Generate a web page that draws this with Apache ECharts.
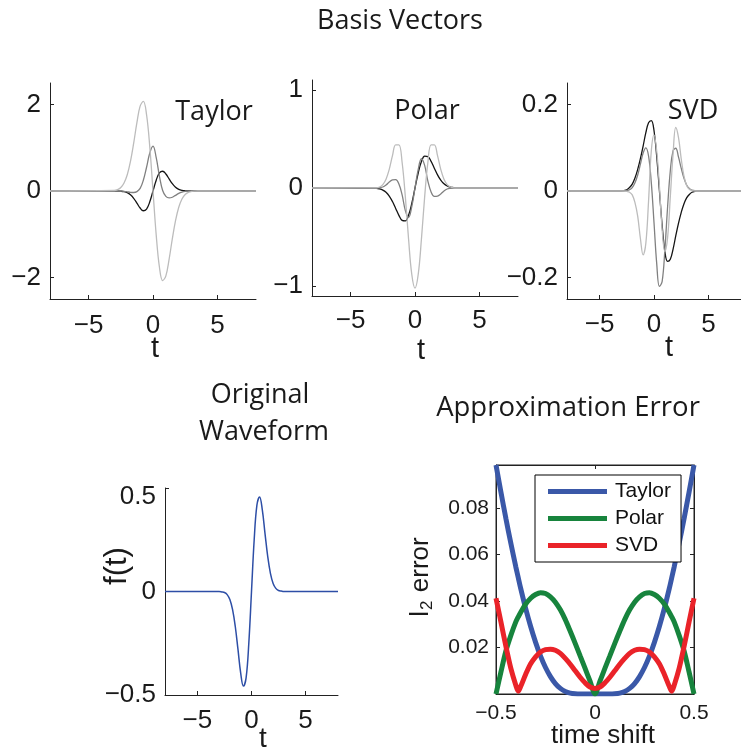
<!DOCTYPE html>
<html><head><meta charset="utf-8">
<script src="https://cdn.jsdelivr.net/npm/echarts@6/dist/echarts.min.js"></script>
<style>html,body{margin:0;padding:0;background:#fff}#c{width:741px;height:755px}</style>
</head><body><div id="c"></div>
<script>
// ---- data ----
const T = [-8,-3,-2.75,-2.5,-2.25,-2,-1.75,-1.5,-1.25,-1,-0.75,-0.5,-0.25,0,0.25,0.5,0.75,1,1.25,1.5,1.75,2,2.25,2.5,2.75,3,3.25,3.5,3.75,4,8];

const waveform = [0,0,-0.002,-0.005,-0.015,-0.039,-0.088,-0.169,-0.28,-0.394,-0.457,-0.417,-0.251,0,0.251,0.417,0.457,0.394,0.28,0.169,0.088,0.039,0.015,0.005,0.002,0,0,0,0,0,0];

const taylor1 = [0,0,-0.002,-0.005,-0.015,-0.039,-0.088,-0.169,-0.28,-0.394,-0.457,-0.417,-0.251,0,0.251,0.417,0.457,0.394,0.28,0.169,0.088,0.039,0.015,0.005,0.002,0,0,0,0,0,0];
const taylor2 = [0,0,0,-0.003,-0.008,-0.018,-0.03,-0.035,-0.015,0.06,0.25,0.55,0.88,1.04,0.77,0.34,0.01,-0.125,-0.16,-0.145,-0.1,-0.055,-0.025,-0.008,-0.002,0,0,0,0,0,0];
const taylor3 = [0,0.011,0.032,0.081,0.185,0.377,0.686,1.109,1.582,1.964,2.073,1.765,1.021,0,-1.021,-1.765,-2.073,-1.964,-1.582,-1.109,-0.686,-0.377,-0.185,-0.081,-0.032,-0.011,-0.003,0,0,0,0];

const polar1 = [0,-0.004,-0.01,-0.022,-0.044,-0.082,-0.138,-0.208,-0.279,-0.33,-0.335,-0.277,-0.158,0,0.153,0.269,0.325,0.32,0.271,0.202,0.134,0.08,0.043,0.021,0.009,0.004,0.001,0,0,0,0];
const polar2 = [0,0,0.003,0.01,0.03,0.06,0.083,0.085,0.04,-0.07,-0.23,-0.3,-0.19,0,0.19,0.3,0.23,0.07,-0.04,-0.085,-0.083,-0.06,-0.03,-0.01,-0.003,0,0,0,0,0,0];
const polar3 = [0,0.002,0.01,0.035,0.09,0.19,0.33,0.44,0.44,0.26,-0.09,-0.52,-0.88,-1.02,-0.88,-0.52,-0.09,0.26,0.44,0.44,0.33,0.19,0.09,0.035,0.01,0.002,0,0,0,0,0];

const svd1 = [0,0,0.001,0.003,0.008,0.016,0.03,0.05,0.075,0.104,0.135,0.158,0.163,0.14,0.08,0,-0.08,-0.14,-0.163,-0.158,-0.135,-0.104,-0.075,-0.05,-0.03,-0.016,-0.008,-0.003,-0.001,0,0];
const svd2 = [0,0,0,0.001,0.003,0.008,0.019,0.037,0.062,0.088,0.1,0.081,0.02,-0.073,-0.168,-0.221,-0.209,-0.136,-0.037,0.047,0.093,0.099,0.079,0.053,0.03,0.014,0.006,0.002,0.001,0,0];
const svd3 = [0,0,0,-0.001,-0.003,-0.009,-0.027,-0.058,-0.11,-0.148,-0.121,-0.023,0.092,0.13,0.092,0.01,-0.089,-0.14,-0.108,-0.013,0.084,0.147,0.124,0.075,0.035,0.013,0.004,0.001,0,0,0];

const S = [-0.5,-0.475,-0.45,-0.425,-0.4,-0.3875,-0.375,-0.35,-0.325,-0.3,-0.275,-0.25,-0.225,-0.2,-0.175,-0.15,-0.125,-0.1,-0.075,-0.05,-0.025,0,0.025,0.05,0.075,0.1,0.125,0.15,0.175,0.2,0.225,0.25,0.275,0.3,0.325,0.35,0.375,0.3875,0.4,0.425,0.45,0.475,0.5];
const errTaylor = [0.0985,0.0868,0.0755,0.0648,0.0547,0.05,0.0453,0.0367,0.029,0.0222,0.0163,0.0114,0.0075,0.0045,0.0024,0.0011,0.0004,0.0001,0,0,0,0,0,0,0,0.0001,0.0004,0.0011,0.0024,0.0045,0.0075,0.0114,0.0163,0.0222,0.029,0.0367,0.0453,0.05,0.0547,0.0648,0.0755,0.0868,0.0985];
const errPolar = [0,0.0095,0.0185,0.0252,0.031,0.0332,0.0352,0.0387,0.0412,0.0428,0.0436,0.0432,0.0418,0.0395,0.0362,0.032,0.027,0.0218,0.0164,0.011,0.0055,0,0.0055,0.011,0.0164,0.0218,0.027,0.032,0.0362,0.0395,0.0418,0.0432,0.0436,0.0428,0.0412,0.0387,0.0352,0.0332,0.031,0.0252,0.0185,0.0095,0];
const errSVD = [0.0412,0.031,0.0205,0.011,0.0038,0.0012,0.0033,0.0085,0.013,0.016,0.0181,0.0191,0.0193,0.0188,0.0175,0.0153,0.0128,0.01,0.0072,0.0048,0.003,0.0024,0.003,0.0048,0.0072,0.01,0.0128,0.0153,0.0175,0.0188,0.0193,0.0191,0.0181,0.016,0.013,0.0085,0.0033,0.0012,0.0038,0.011,0.0205,0.031,0.0412];

const tTicks = [-5,0,5];
const taylorTicks = [-2,0,2];
const polarTicks = [-1,0,1];
const svdTicks = [-0.2,0,0.2];
const waveTicks = [-0.5,0,0.5];
const shiftTicks = [-0.5,0,0.5];
const errTicks = [0.02,0.04,0.06,0.08];
const legendNames = ['Taylor','Polar','SVD'];

// ---- styling / building ----
const AX = '#222';
const HF = 'Liberation Sans, Arial, sans-serif';
const TF = 'Open Sans, Lato, sans-serif';
const BIG = {fontFamily:HF, fontSize:26, color:'#1a1a1a'};
const SMALL = {fontFamily:HF, fontSize:21, color:'#1a1a1a'};
const fmt = v => (v < 0 ? '\u2212' : '') + String(Math.abs(v));
const pairs = (xs, ys) => xs.map((x, i) => [x, ys[i]]);

function ax(g, min, max, ticks, lbl, margin, extra) {
  return Object.assign({
    gridIndex:g, type:'value', min, max,
    axisLine:{show:true, onZero:false, lineStyle:{color:AX, width:1}},
    axisTick:{show:true, inside:true, length:4, customValues:ticks, lineStyle:{color:AX}},
    axisLabel:Object.assign({show:true, customValues:ticks, formatter:fmt, margin}, lbl),
    splitLine:{show:false}
  }, extra || {});
}

const grids = [
  {left:50, top:83, width:206, height:216},
  {left:312, top:80, width:206, height:216},
  {left:567, top:83, width:181, height:216},
  {left:165, top:488, width:173, height:207},
  {left:496, top:465, width:198, height:229, show:true, borderColor:AX, borderWidth:1, backgroundColor:'transparent'}
];

const waveY = ax(3,-0.5,0.5,waveTicks,BIG,9);
waveY.axisLabel.formatter = v => v === 0.5 ? '{lo|0.5}' : fmt(v);
waveY.axisLabel.rich = {lo:{fontFamily:HF, fontSize:26, color:'#1a1a1a', padding:[18,0,0,0]}};

const xAxes = [
  ax(0,-8,8,tTicks,BIG,14), ax(1,-8,8,tTicks,BIG,12), ax(2,-8,8,tTicks,BIG,13), ax(3,-8,8,tTicks,BIG,13),
  ax(4,-0.5,0.5,shiftTicks,SMALL,9),
  ax(4,-0.5,0.5,shiftTicks,SMALL,9,{position:'top', axisLabel:{show:false}})
];
const yAxes = [
  ax(0,-2.5,2.5,taylorTicks,BIG,9), ax(1,-1.1,1.1,polarTicks,BIG,9), ax(2,-0.25,0.25,svdTicks,BIG,9),
  waveY,
  ax(4,0,0.0985,errTicks,SMALL,7),
  ax(4,0,0.0985,errTicks,SMALL,7,{position:'right', axisLabel:{show:false}})
];

const BLACK = '#141414', DARK = '#808080', LIGHT = '#bcbcbc';
function thin(name, idx, ys, color) {
  return {name, type:'line', xAxisIndex:idx, yAxisIndex:idx, data:pairs(T, ys), showSymbol:false, smooth:0.4,
    lineStyle:{color, width:1.3}, itemStyle:{color}, silent:true, z:2};
}
function thick(name, ys, color) {
  return {name, type:'line', xAxisIndex:4, yAxisIndex:4, data:pairs(S, ys), showSymbol:false, smooth:0.3,
    lineStyle:{color, width:5}, itemStyle:{color}, silent:true, z:2};
}

const series = [
  thin('taylor f', 0, taylor1, BLACK), thin('taylor d1', 0, taylor2, DARK), thin('taylor d2', 0, taylor3, LIGHT),
  thin('polar a', 1, polar1, BLACK), thin('polar b', 1, polar2, DARK), thin('polar c', 1, polar3, LIGHT),
  thin('svd 1', 2, svd1, BLACK), thin('svd 2', 2, svd2, DARK), thin('svd 3', 2, svd3, LIGHT),
  {name:'waveform', type:'line', xAxisIndex:3, yAxisIndex:3, data:pairs(T, waveform), showSymbol:false, smooth:0.4,
    lineStyle:{color:'#2d4ea6', width:1.5}, silent:true},
  thick('Taylor', errTaylor, '#3a58a8'),
  thick('Polar', errPolar, '#17843d'),
  thick('SVD', errSVD, '#ea2329')
];

function txt(text, x, y, size, family, rot) {
  return {type:'text', x, y, rotation: rot || 0, silent:true, z:10,
    style:{text, fontSize:size, fontFamily:family, fill:'#1a1a1a', textAlign:'center', textVerticalAlign:'middle'}};
}

const graphic = [
  txt('Basis Vectors', 400, 21, 27, TF),
  txt('Taylor', 214, 112, 27, TF),
  txt('Polar', 427, 111, 27, TF),
  txt('SVD', 693, 111, 27, TF),
  txt('t', 155, 349, 29, HF),
  txt('t', 421, 351, 29, HF),
  txt('t', 669, 348, 29, HF),
  txt('Original', 260, 395, 27, TF),
  txt('Waveform', 264, 432, 27, TF),
  txt('Approximation Error', 568, 408, 27.5, TF),
  txt('f(t)', 117, 566, 31, HF, Math.PI/2),
  txt('t', 263, 739, 28, HF),
  txt('time shift', 603, 736, 26, HF),
  {type:'text', x:421, y:577, rotation:Math.PI/2, silent:true, z:10,
    style:{text:'{a|l}{b|2}{a| error}', textAlign:'center', textVerticalAlign:'middle', fill:'#1a1a1a',
      rich:{a:{fontSize:26, fontFamily:HF, fill:'#1a1a1a', lineHeight:30, verticalAlign:'middle'},
            b:{fontSize:17, fontFamily:HF, fill:'#1a1a1a', lineHeight:30, verticalAlign:'bottom', padding:[14,1,0,1]}}}}
];

const option = {
  animation:false,
  backgroundColor:'#fff',
  grid:grids, xAxis:xAxes, yAxis:yAxes, series, graphic,
  legend:{data:legendNames, orient:'vertical', left:535, top:475, itemWidth:59, itemHeight:5, itemGap:6, icon:'rect',
    padding:[6,10,6,13], backgroundColor:'#fff', borderColor:'#000', borderWidth:1, borderRadius:0, selectedMode:false,
    textStyle:{fontFamily:HF, fontSize:21, color:'#111', lineHeight:21, padding:[0,0,0,3]}, z:5}
};

const chart = echarts.init(document.getElementById('c'), null, {renderer:'canvas'});
chart.setOption(option);
</script></body></html>
